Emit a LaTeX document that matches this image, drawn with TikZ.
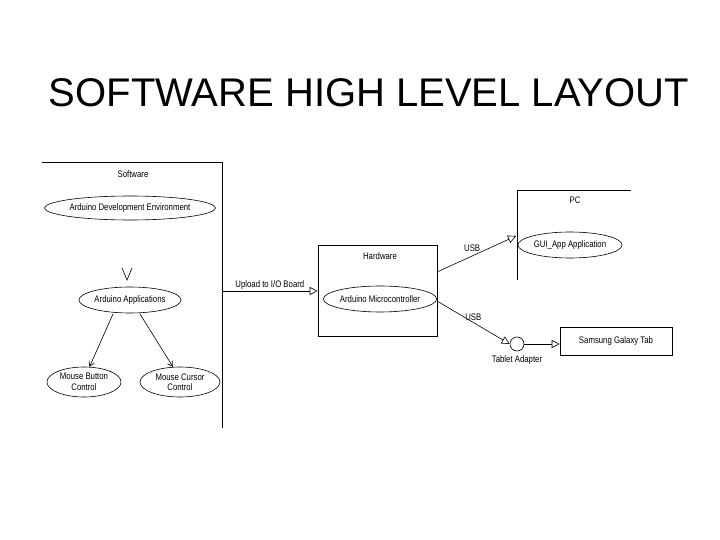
\documentclass[tikz,border=0pt]{standalone}
\usepackage{fontspec}
\setmainfont{Liberation Sans}
\newfontfamily\narrowf[FakeStretch=0.82]{Liberation Sans}
\usetikzlibrary{arrows.meta,shapes.geometric}
\begin{document}
\begin{tikzpicture}[x=1pt,y=-1pt,
  lbl/.style={font=\narrowf\fontsize{9.5}{10.5}\selectfont,inner sep=1pt},
  uc/.style={draw,ellipse,font=\narrowf\fontsize{9.5}{10.5}\selectfont,inner sep=0pt,align=center},
  tri/.style={-{Triangle[open,length=8pt,width=8pt]}},
  opn/.style={-{Straight Barb[length=5pt,width=6pt]}},
  every path/.style={line width=0.6pt}]
\useasboundingbox (0,0) rectangle (720,540);
\node[font=\fontsize{40}{44}\selectfont] (title) at (369,93) {SOFTWARE HIGH LEVEL LAYOUT};
% software frame
\coordinate (s1) at (42,162); \coordinate (s2) at (222,162); \coordinate (s3) at (222,428);
\draw (s1) -- (s2) -- (s3);
\node[lbl] (swt) at (133,174) {Software};
\node[uc,minimum width=146pt,minimum height=24pt] (ade) at (130,208) {Arduino Development Environment};
\coordinate (vt) at (127,280);
\draw (122,268) -- (vt) -- (132,268);
\node[uc,minimum width=102pt,minimum height=26pt] (aa) at (130,300) {Arduino Applications};
\node[uc,minimum width=74pt,minimum height=30pt] (mb) at (84,382) {Mouse Button\\Control};
\node[uc,minimum width=80pt,minimum height=30pt] (mc) at (180,382) {Mouse Cursor\\Control};
\draw[opn] (113,314) -- (mb.70);
\draw[opn] (140,314) -- (mc.115);
% hardware
\node[draw,minimum width=119pt,minimum height=91pt] (hw) at (377.5,290.5) {};
\node[lbl] (hwt) at (380,256) {Hardware};
\node[uc,minimum width=100pt,minimum height=26pt] (am) at (380,299) {Arduino Microcontroller};
\coordinate (up) at (222,291);
\draw[tri] (up) -- (hw.west |- up) node[lbl,pos=0.5,above] {Upload to I/O Board};
% PC
\coordinate (p1) at (631,190); \coordinate (p2) at (517,190); \coordinate (p3) at (517,280);
\draw (p1) -- (p2) -- (p3);
\node[lbl] (pct) at (575,200) {PC};
\node[uc,minimum width=104pt,minimum height=26pt] (gui) at (570,245) {GUI\_App Application};
\coordinate (pe) at (516,236);
\draw[tri] (437,272) -- (pe) node[lbl,pos=0.55,above left=-1pt] {USB};
% tablet
\node[draw,circle,minimum size=14pt,inner sep=0pt] (ad) at (517,344) {};
\node[lbl,below=3pt] (adt) at (ad.south) {Tablet Adapter};
\draw[tri] (437,301) -- (ad.west) node[lbl,pos=0.5,above=1pt] {USB};
\node[draw,minimum width=112pt,minimum height=28pt,lbl] (sg) at (616,341) {Samsung Galaxy Tab};
\draw[tri] (ad.east) -- (sg.west |- ad.east);
\end{tikzpicture}
\end{document}
